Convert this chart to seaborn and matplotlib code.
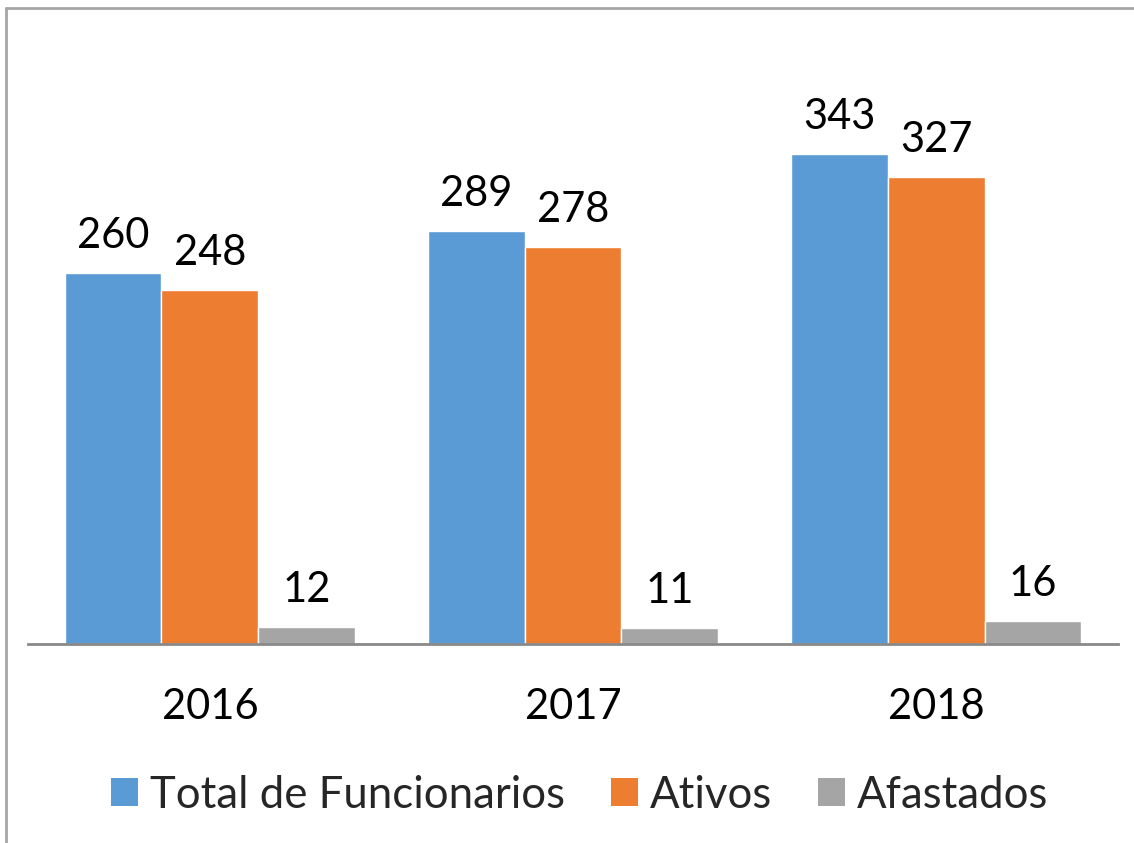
import matplotlib
matplotlib.use("Agg")
import matplotlib.pyplot as plt
import seaborn as sns
import pandas as pd
from matplotlib.patches import Rectangle

years = ["2016", "2017", "2018"]
series = ["Total de Funcionarios", "Ativos", "Afastados"]
total = [260, 289, 343]
ativos = [248, 278, 327]
afastados = [12, 11, 16]
colors = ["#5B9BD5", "#ED7D31", "#A5A5A5"]

rows = []
for name, vals in zip(series, [total, ativos, afastados]):
    for y, v in zip(years, vals):
        rows.append({"Ano": y, "Serie": name, "Valor": v})
df = pd.DataFrame(rows)

sns.set_theme(style="white")
plt.rcParams["font.family"] = ["Lato", "DejaVu Sans"]

W, H = 1134, 843
fig = plt.figure(figsize=(W / 100, H / 100), dpi=100)
ax_left, ax_right = 28, 1118
ax_bottom, ax_top = 644, 30
ax = fig.add_axes([ax_left / W, (H - ax_bottom) / H, (ax_right - ax_left) / W, (ax_bottom - ax_top) / H])

sns.barplot(data=df, x="Ano", y="Valor", hue="Serie", hue_order=series,
            palette=colors, width=0.8, gap=0, ax=ax, edgecolor="white",
            linewidth=1.0, legend=False, saturation=1)

ax.set_xlim(-0.501, 2.501)
ax.set_ylim(0, (ax_bottom - ax_top) / 1.4286)

for c in ax.containers:
    ax.bar_label(c, padding=13, fontsize=30, color="black")

for s in ["top", "right", "left"]:
    ax.spines[s].set_visible(False)
ax.spines["bottom"].set_color("#898989")
ax.spines["bottom"].set_linewidth(2)
ax.set_yticks([])
ax.set_xlabel("")
ax.set_ylabel("")
ax.tick_params(axis="x", length=0, pad=32, labelsize=30, labelcolor="black")

handles = [Rectangle((0, 0), 1, 1, facecolor=c, edgecolor="none") for c in colors]
fig.legend(handles, series, loc="center", bbox_to_anchor=(580 / W, 1 - 795 / H),
           ncol=3, frameon=False, fontsize=31.5, handlelength=0.61, handleheight=0.61,
           handletextpad=0.28, columnspacing=1.05, borderpad=0, borderaxespad=0)

# outer frame lines (top and left)
fig.add_artist(plt.Line2D([6 / W, 1], [1 - 8 / H, 1 - 8 / H], color="#A6A6A6", lw=2, transform=fig.transFigure))
fig.add_artist(plt.Line2D([6 / W, 6 / W], [0, 1 - 8 / H], color="#A6A6A6", lw=2, transform=fig.transFigure))

fig.savefig("out.png", dpi=100)
